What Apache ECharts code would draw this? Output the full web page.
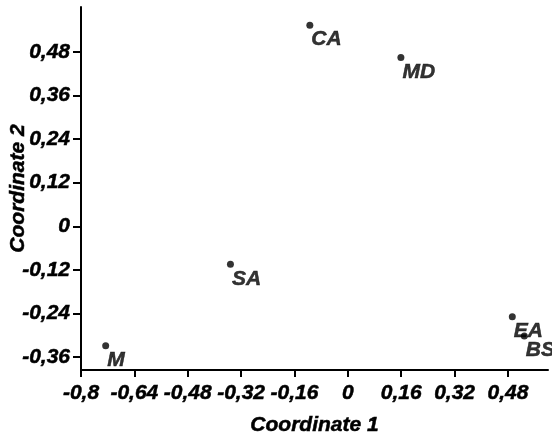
<!DOCTYPE html>
<html>
<head>
<meta charset="utf-8">
<script src="https://cdn.jsdelivr.net/npm/echarts@6/dist/echarts.min.js"></script>
<style>
  html, body { margin: 0; padding: 0; background: #fff; }
  #main { width: 552px; height: 434px; }
</style>
</head>
<body>
<div id="main"></div>
<script>
var pointNames = ['CA', 'MD', 'SA', 'M', 'EA', 'BS'];
var coord1 = [-0.114, 0.159, -0.352, -0.726, 0.493, 0.529];
var coord2 = [0.554, 0.465, -0.105, -0.329, -0.249, -0.302];
var xTicks = [-0.8, -0.64, -0.48, -0.32, -0.16, 0, 0.16, 0.32, 0.48];
var yTicks = [-0.36, -0.24, -0.12, 0, 0.12, 0.24, 0.36, 0.48];

var font = {
    fontFamily: 'Liberation Sans, Arial, sans-serif',
    fontWeight: 'bold',
    fontStyle: 'italic',
    fontSize: 21,
    color: '#000',
    textBorderColor: '#000',
    textBorderWidth: 0.5
};

function fmt(v) {
    return String(Math.round(v * 100) / 100).replace('.', ',');
}

var myChart = echarts.init(document.getElementById('main'));

var points = pointNames.map(function (n, i) {
    return { name: n, value: [coord1[i], coord2[i]] };
});

var option = {
    animation: false,
    grid: { left: 81, right: 4, top: 7, bottom: 64, outerBoundsMode: 'none', containLabel: false },
    xAxis: {
        type: 'value',
        min: -0.8,
        max: 0.6,
        name: 'Coordinate 1',
        nameLocation: 'middle',
        nameGap: 45,
        nameTextStyle: Object.assign({}, font),
        axisLine: { onZero: false, lineStyle: { color: '#000', width: 2 } },
        axisTick: { customValues: xTicks, length: 7, lineStyle: { color: '#000', width: 2 } },
        axisLabel: Object.assign({ customValues: xTicks, margin: 13, formatter: fmt }, font),
        splitLine: { show: false }
    },
    yAxis: {
        type: 'value',
        min: -0.396,
        max: 0.604,
        name: 'Coordinate 2',
        nameLocation: 'middle',
        nameGap: 52,
        nameMoveOverlap: false,
        nameTextStyle: Object.assign({}, font),
        axisLine: { onZero: false, lineStyle: { color: '#000', width: 2 } },
        axisTick: { customValues: yTicks, length: 8, lineStyle: { color: '#000', width: 2 } },
        axisLabel: Object.assign({ customValues: yTicks, margin: 11, formatter: fmt }, font),
        splitLine: { show: false }
    },
    series: [
        {
            type: 'scatter',
            symbolSize: 7,
            itemStyle: { color: '#000' },
            label: Object.assign({
                show: true,
                formatter: '{b}',
                position: [5, 18],
                align: 'left',
                verticalAlign: 'middle'
            }, font),
            data: points
        }
    ]
};

myChart.setOption(option);
</script>
</body>
</html>
